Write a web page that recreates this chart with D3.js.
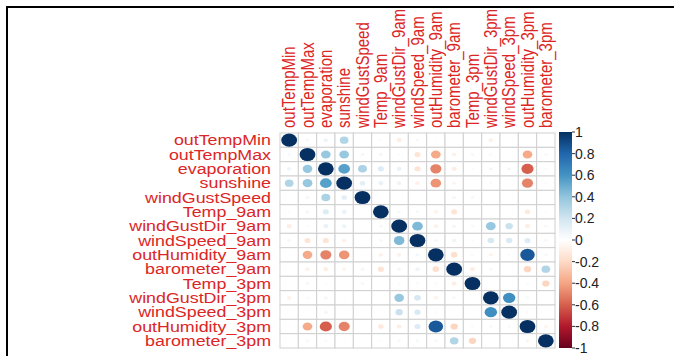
<!DOCTYPE html>
<html>
<head>
<meta charset="utf-8">
<script src="https://cdn.jsdelivr.net/npm/d3@7"></script>
<style>
  body { margin: 0; background: #fff; }
  svg { display: block; }
</style>
</head>
<body>
<div id="chart"></div>
<script>
// variable names (rows top->bottom, columns left->right)
const variables = ["outTempMin", "outTempMax", "evaporation", "sunshine", "windGustSpeed",
  "Temp_9am", "windGustDir_9am", "windSpeed_9am", "outHumidity_9am", "barometer_9am",
  "Temp_3pm", "windGustDir_3pm", "windSpeed_3pm", "outHumidity_3pm", "barometer_3pm"];

// correlation matrix, one row per variable
const rowOutTempMin      = [1, 0.05, 0.08, 0.3, 0.02, 0.03, -0.1, 0.05, 0.02, 0.02, 0, -0.08, 0.02, 0.02, 0.02];
const rowOutTempMax      = [0.05, 1, 0.38, 0.38, 0.06, 0.06, 0.03, -0.15, -0.38, -0.08, 0.05, 0.04, 0.02, -0.38, 0.05];
const rowEvaporation     = [0.08, 0.38, 1, 0.55, 0.32, 0.15, 0.1, -0.15, -0.5, -0.1, 0.03, 0.06, 0.06, -0.6, 0.04];
const rowSunshine        = [0.3, 0.38, 0.55, 1, 0.12, 0.1, 0.08, -0.08, -0.45, -0.06, 0.02, 0.03, 0.02, -0.5, 0.03];
const rowWindGustSpeed   = [0.02, 0.06, 0.32, 0.12, 1, 0.02, 0.02, 0.02, 0.02, 0.06, 0.05, 0.02, 0.02, 0.02, 0.02];
const rowTemp9am         = [0.03, 0.06, 0.15, 0.1, 0.02, 1, 0.05, 0.05, -0.08, -0.15, 0.02, 0.02, 0.02, -0.12, 0.03];
const rowWindGustDir9am  = [-0.1, 0.03, 0.1, 0.08, 0.02, 0.05, 1, 0.45, -0.08, 0.06, 0.04, 0.38, 0.22, -0.1, 0.05];
const rowWindSpeed9am    = [0.05, -0.15, -0.15, -0.08, 0.02, 0.05, 0.45, 1, 0.06, 0.08, 0.04, 0.18, 0.16, 0.15, 0.05];
const rowOutHumidity9am  = [0.02, -0.38, -0.5, -0.45, 0.02, -0.08, -0.08, 0.06, 1, -0.18, 0.04, -0.07, 0.03, 0.85, 0.05];
const rowBarometer9am    = [0.02, -0.08, -0.1, -0.06, 0.06, -0.15, 0.06, 0.08, -0.18, 1, -0.1, 0.05, 0.02, -0.22, 0.3];
const rowTemp3pm         = [0, 0.05, 0.03, 0.02, 0.05, 0.02, 0.04, 0.04, 0.04, -0.1, 1, 0.02, 0.02, 0.04, -0.22];
const rowWindGustDir3pm  = [-0.08, 0.04, 0.06, 0.03, 0.02, 0.02, 0.38, 0.18, -0.07, 0.05, 0.02, 1, 0.62, 0.05, 0.02];
const rowWindSpeed3pm    = [0.02, 0.02, 0.06, 0.02, 0.02, 0.02, 0.22, 0.16, 0.03, 0.02, 0.02, 0.62, 1, 0.04, 0.02];
const rowOutHumidity3pm  = [0.02, -0.38, -0.6, -0.5, 0.02, -0.12, -0.1, 0.15, 0.85, -0.22, 0.04, 0.05, 0.04, 1, -0.06];
const rowBarometer3pm    = [0.02, 0.05, 0.04, 0.03, 0.02, 0.03, 0.05, 0.05, 0.05, 0.3, -0.22, 0.02, 0.02, -0.06, 1];

const corrRows = [rowOutTempMin, rowOutTempMax, rowEvaporation, rowSunshine, rowWindGustSpeed,
  rowTemp9am, rowWindGustDir9am, rowWindSpeed9am, rowOutHumidity9am, rowBarometer9am,
  rowTemp3pm, rowWindGustDir3pm, rowWindSpeed3pm, rowOutHumidity3pm, rowBarometer3pm];

// colour legend ticks
const legendTicks = [1, 0.8, 0.6, 0.4, 0.2, 0, -0.2, -0.4, -0.6, -0.8, -1];
const legendLabels = ["1", "0.8", "0.6", "0.4", "0.2", "0", "-0.2", "-0.4", "-0.6", "-0.8", "-1"];

// RdBu palette used by corrplot
const palette = ["#67001F", "#B2182B", "#D6604D", "#F4A582", "#FDDBC7", "#FFFFFF",
  "#D1E5F0", "#92C5DE", "#4393C3", "#2166AC", "#053061"];

const W = 674, H = 356;
const gridLeft = 280, gridRight = 555, gridTop = 133, gridBottom = 348;
const labelColor = "#dc2626";
const stretch = 1.19; // text is a bit wide in the original

const svg = d3.select("#chart").append("svg")
  .attr("width", W).attr("height", H);

// frame lines of the screenshot
svg.append("path")
  .attr("d", "M7,356 L7,7 L674,7")
  .attr("fill", "none").attr("stroke", "#000").attr("stroke-width", 2);

//------------------------------------- scales -------------------------------------
const x = d3.scaleBand().domain(variables).range([gridLeft, gridRight]);
const y = d3.scaleBand().domain(variables).range([gridTop, gridBottom]);
const color = d3.scaleLinear()
  .domain(d3.range(palette.length).map(i => -1 + i * 2 / (palette.length - 1)))
  .range(palette);

const cells = [];
corrRows.forEach((row, i) => row.forEach((v, j) => cells.push({ r: variables[i], c: variables[j], v: v })));

// cell backgrounds + grid
svg.append("g").selectAll("rect")
  .data(cells).enter().append("rect")
  .attr("x", d => x(d.c)).attr("y", d => y(d.r))
  .attr("width", x.bandwidth()).attr("height", y.bandwidth())
  .attr("fill", "#fff").attr("stroke", "#cfcfcf").attr("stroke-width", 1);

// circles, area proportional to |r|
svg.append("g").selectAll("ellipse")
  .data(cells).enter().append("ellipse")
  .attr("cx", d => x(d.c) + x.bandwidth() / 2)
  .attr("cy", d => y(d.r) + y.bandwidth() / 2)
  .attr("rx", d => 0.43 * x.bandwidth() * Math.sqrt(Math.abs(d.v)))
  .attr("ry", d => 0.46 * y.bandwidth() * Math.sqrt(Math.abs(d.v)))
  .attr("fill", d => color(d.v));

//------------------------------------- labels -------------------------------------
svg.append("g").selectAll("text")
  .data(variables).enter().append("text")
  .attr("transform", d => "translate(271," + (y(d) + y.bandwidth() / 2 + 5) + ") scale(" + stretch + ",1)")
  .attr("text-anchor", "end")
  .attr("font-family", "Liberation Sans, Arial, sans-serif")
  .attr("font-size", 15)
  .attr("fill", labelColor)
  .text(d => d);

svg.append("g").selectAll("text")
  .data(variables).enter().append("text")
  .attr("transform", d => "translate(" + (x(d) + x.bandwidth() / 2 + 6) + ",128) scale(" + stretch + ",1) rotate(-90)")
  .attr("text-anchor", "start")
  .attr("font-family", "Liberation Sans, Arial, sans-serif")
  .attr("font-size", 15)
  .attr("fill", labelColor)
  .text(d => d);

//------------------------------------- colour legend -------------------------------------
const barLeft = 559, barWidth = 13;
const ly = d3.scaleLinear().domain([1, -1]).range([gridTop - 1, gridBottom]);

const grad = svg.append("defs").append("linearGradient")
  .attr("id", "rdbu").attr("x1", 0).attr("y1", 0).attr("x2", 0).attr("y2", 1);
palette.slice().reverse().forEach((c, i) => {
  grad.append("stop").attr("offset", i / (palette.length - 1)).attr("stop-color", c);
});

svg.append("rect")
  .attr("x", barLeft).attr("y", ly(1))
  .attr("width", barWidth).attr("height", ly(-1) - ly(1))
  .attr("fill", "url(#rdbu)");

const legend = svg.append("g");
legend.selectAll("line")
  .data(legendTicks).enter().append("line")
  .attr("x1", barLeft + barWidth).attr("x2", barLeft + barWidth + 3)
  .attr("y1", d => ly(d)).attr("y2", d => ly(d))
  .attr("stroke", "#333").attr("stroke-width", 1);

legend.selectAll("text")
  .data(legendTicks).enter().append("text")
  .attr("x", barLeft + barWidth + 3)
  .attr("y", d => ly(d) + 5)
  .attr("font-family", "Liberation Sans, Arial, sans-serif")
  .attr("font-size", 14)
  .attr("fill", "#222")
  .text((d, i) => legendLabels[i]);
</script>
</body>
</html>
